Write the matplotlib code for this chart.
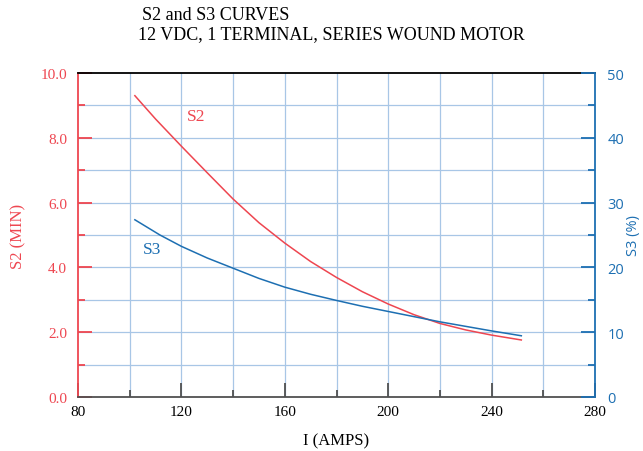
import matplotlib
matplotlib.use("Agg")
import matplotlib.pyplot as plt
from matplotlib.ticker import MultipleLocator, FixedLocator

# Data
current_s2 = [102, 110, 120, 130, 140, 150, 160, 170, 180, 190, 200, 210, 220, 230, 240, 251.5]
s2_min = [9.30, 8.58, 7.74, 6.92, 6.11, 5.38, 4.75, 4.18, 3.69, 3.25, 2.87, 2.54, 2.27, 2.07, 1.91, 1.76]
current_s3 = [102, 111.7, 120, 130, 139.2, 150, 160, 170, 180, 190, 200, 210, 220, 230, 240, 251.5]
s3_pct = [27.35, 25.0, 23.25, 21.45, 20.0, 18.3, 16.95, 15.85, 14.9, 14.0, 13.2, 12.4, 11.6, 10.9, 10.2, 9.45]

x_ticks = [80, 120, 160, 200, 240, 280]
left_ticks = [0, 2, 4, 6, 8, 10]
left_labels = ["0.0", "2.0", "4.0", "6.0", "8.0", "10.0"]
right_ticks = [0, 10, 20, 30, 40, 50]

RED = "#ee4650"
BLUE = "#1d6fb2"
GRID = "#a8c6e6"
GRAY = "#505050"
SERIF = "Liberation Serif"
SANS = "Open Sans"

fig = plt.figure(figsize=(6.43, 4.52), dpi=100)
ax = fig.add_axes([78/643, 1-398/452, 517/643, 324/452])
ax2 = ax.twinx()

ax.set_xlim(80, 280)
ax.set_ylim(0, 10)
ax2.set_ylim(0, 50)

# grid
for xv in range(100, 280, 20):
    ax.axvline(xv, color=GRID, lw=0.9, zorder=1)
for yv in range(1, 10):
    ax.axhline(yv, color=GRID, lw=0.9, zorder=1)

ax.plot(current_s2, s2_min, color=RED, lw=1.1, zorder=3)
ax2.plot(current_s3, s3_pct, color=BLUE, lw=1.1, zorder=3)

ax.text(125.6, 8.67, "S2", color=RED, fontsize=12.5, family=SERIF, ha="center", va="center")
ax2.text(108.5, 22.8, "S3", color=BLUE, fontsize=12.5, family=SERIF, ha="center", va="center")

# spines
ax.spines["top"].set_color("black")
ax.spines["left"].set_color(RED)
ax.spines["bottom"].set_color(GRAY)
ax.spines["right"].set_visible(False)
ax2.spines["right"].set_color(BLUE)
ax2.spines["top"].set_visible(False)
ax2.spines["left"].set_visible(False)
ax2.spines["bottom"].set_visible(False)
for sp in ax.spines.values():
    sp.set_linewidth(1.3)
ax2.spines["right"].set_linewidth(1.3)

# x ticks
ax.xaxis.set_major_locator(FixedLocator(x_ticks))
ax.xaxis.set_minor_locator(MultipleLocator(20))
ax.tick_params(axis="x", which="major", direction="in", length=10, width=1.3, color=GRAY,
               pad=6, labelsize=11)
ax.tick_params(axis="x", which="minor", direction="in", length=5, width=1.3, color=GRAY)
for lab in ax.get_xticklabels():
    lab.set_family(SERIF)
ax.tick_params(axis="x", top=False)

# left ticks
ax.yaxis.set_major_locator(FixedLocator(left_ticks))
ax.set_yticklabels(left_labels)
ax.yaxis.set_minor_locator(MultipleLocator(1))
ax.tick_params(axis="y", which="major", direction="in", length=10, width=1.3, color=RED,
               labelcolor=RED, pad=8, labelsize=11)
ax.tick_params(axis="y", which="minor", direction="in", length=5, width=1.3, color=RED)
for lab in ax.get_yticklabels():
    lab.set_family(SERIF)

# right ticks
ax2.yaxis.set_major_locator(FixedLocator(right_ticks))
ax2.yaxis.set_minor_locator(MultipleLocator(5))
ax2.tick_params(axis="y", which="major", direction="in", length=10, width=1.3, color=BLUE,
                labelcolor=BLUE, pad=9, labelsize=10.5)
ax2.tick_params(axis="y", which="minor", direction="in", length=5, width=1.3, color=BLUE)
for lab in ax2.get_yticklabels():
    lab.set_family(SANS)

ax.set_xlabel("I (AMPS)", family=SERIF, fontsize=12, labelpad=10)
ax.set_ylabel("S2 (MIN)", family=SERIF, fontsize=12, color=RED, labelpad=10)
ax2.set_ylabel("S3 (%)", family=SANS, fontsize=10.5, color=BLUE, rotation=90, labelpad=1)

fig.text(142/643, 1-15/452, "S2 and S3 CURVES", family=SERIF, fontsize=13, ha="left", va="center")
fig.text(138/643, 1-35/452, "12 VDC, 1 TERMINAL, SERIES WOUND MOTOR", family=SERIF, fontsize=13,
         ha="left", va="center")

fig.savefig("out.png", dpi=100)
